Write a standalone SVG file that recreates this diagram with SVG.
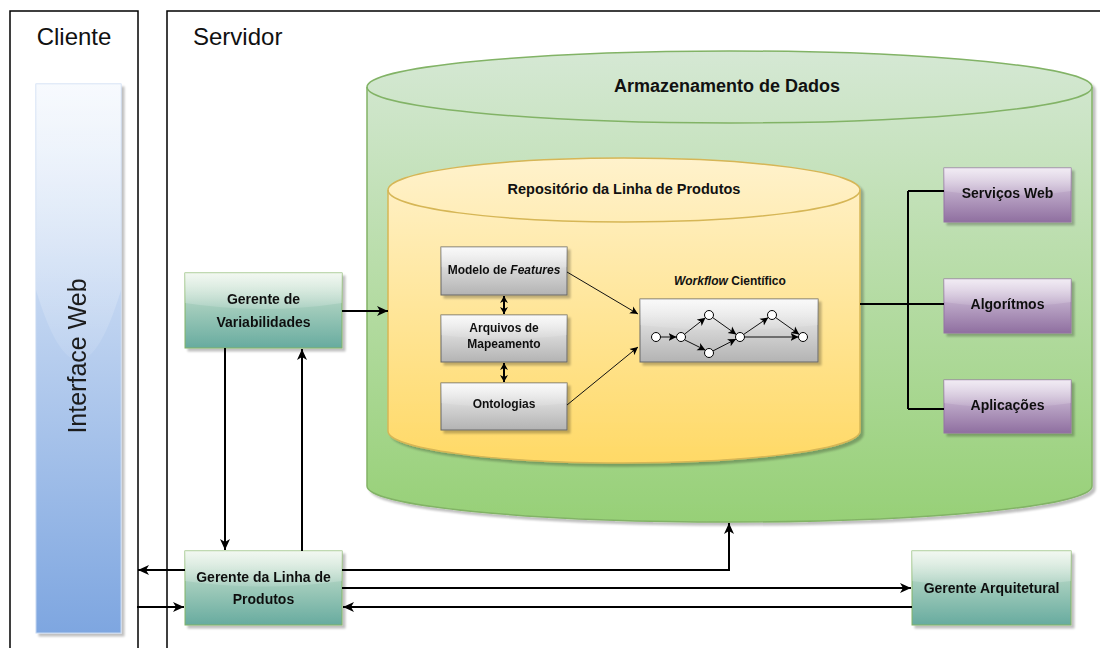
<svg xmlns="http://www.w3.org/2000/svg" width="1100" height="648" viewBox="0 0 1100 648">
  <style>
    .lane { fill: none; stroke: #000; stroke-width: 1.5; }
    .lane-title { font-family: "Liberation Sans", Arial, sans-serif; font-size: 24px; fill: #111; }
    .lbl { font-family: "Liberation Sans", Arial, sans-serif; font-weight: bold; fill: #111; text-anchor: middle; }
    .lbl14 { font-size: 14px; }
    .lbl12 { font-size: 12px; }
    .conn { fill: none; stroke: #000; stroke-width: 2; }
    .thin { fill: none; stroke: #111; stroke-width: 1; }
    .green { fill: url(#gGreen); stroke: #82b366; stroke-width: 1; }
    .gray { fill: url(#gGray); stroke: #666; stroke-width: 1; }
    .purple { fill: url(#gPurple); stroke: #9673a6; stroke-width: 1; }
    .glass { fill: url(#gGlass); stroke: none; }
    .wfnode { fill: #fff; stroke: #000; stroke-width: 1; }
  </style>
  <defs>
    <linearGradient id="gGreen" x1="0" y1="0" x2="0" y2="1">
      <stop offset="0" stop-color="#d5e8d4"/>
      <stop offset="1" stop-color="#67ab9f"/>
    </linearGradient>
    <linearGradient id="gGray" x1="0" y1="0" x2="0" y2="1">
      <stop offset="0" stop-color="#f5f5f5"/>
      <stop offset="1" stop-color="#b3b3b3"/>
    </linearGradient>
    <linearGradient id="gPurple" x1="0" y1="0" x2="0" y2="1">
      <stop offset="0" stop-color="#e1d5e7"/>
      <stop offset="1" stop-color="#8f6fa0"/>
    </linearGradient>
    <linearGradient id="gBlue" x1="0" y1="0" x2="0" y2="1">
      <stop offset="0" stop-color="#eef4fc"/>
      <stop offset="1" stop-color="#7ea6e0"/>
    </linearGradient>
    <linearGradient id="gGlass" x1="0" y1="0" x2="0" y2="1">
      <stop offset="0" stop-color="#fff" stop-opacity="0.9"/>
      <stop offset="1" stop-color="#fff" stop-opacity="0.15"/>
    </linearGradient>
    <linearGradient id="gStore" x1="0" y1="0" x2="0" y2="1">
      <stop offset="0" stop-color="#d5e8d4"/>
      <stop offset="1" stop-color="#97d077"/>
    </linearGradient>
    <linearGradient id="gRepo" x1="0" y1="0" x2="0" y2="1">
      <stop offset="0" stop-color="#fff2cc"/>
      <stop offset="1" stop-color="#ffd966"/>
    </linearGradient>
    <filter id="shadow" x="-10%" y="-10%" width="130%" height="130%">
      <feGaussianBlur in="SourceAlpha" stdDeviation="1.2"/>
      <feOffset dx="2.5" dy="2.5" result="off"/>
      <feComponentTransfer><feFuncA type="linear" slope="0.25"/></feComponentTransfer>
      <feMerge><feMergeNode/><feMergeNode in="SourceGraphic"/></feMerge>
    </filter>
    <marker id="arrow" markerUnits="userSpaceOnUse" markerWidth="12" markerHeight="12" refX="11" refY="6" orient="auto">
      <path d="M0,1 L11,6 L0,11 L3,6 Z" fill="#000"/>
    </marker>
    <marker id="arrowSmall" markerUnits="userSpaceOnUse" markerWidth="9" markerHeight="9" refX="8" refY="4.5" orient="auto">
      <path d="M0,0.5 L8,4.5 L0,8.5 L2,4.5 Z" fill="#000"/>
    </marker>
    <marker id="arrowDouble" markerUnits="userSpaceOnUse" markerWidth="8" markerHeight="8" refX="7" refY="4" orient="auto-start-reverse">
      <path d="M0,0 L7,4 L0,8 L2,4 Z" fill="#000"/>
    </marker>
  </defs>

  <!-- swimlanes -->
  <g id="lane-cliente">
    <rect class="lane" x="10" y="11" width="128" height="660"/>
    <text class="lane-title" x="74" y="45" text-anchor="middle">Cliente</text>
  </g>
  <g id="lane-servidor">
    <rect class="lane" x="167" y="11" width="960" height="660"/>
    <text class="lane-title" x="193" y="45">Servidor</text>
  </g>

  <!-- web interface -->
  <g id="interface-web" filter="url(#shadow)">
    <rect x="36" y="84" width="85" height="549" fill="url(#gBlue)" stroke="#c5d8f2" stroke-width="1"/>
    <path class="glass" d="M36,84 H121 V290 Q78.5,430 36,290 Z" opacity="0.6"/>
    <text x="86" y="356" transform="rotate(-90 86 356)" text-anchor="middle" font-family="'Liberation Sans', Arial, sans-serif" font-size="25" fill="#1a1a1a">Interface Web</text>
  </g>

  <!-- data storage cylinder -->
  <g id="armazenamento">
    <path d="M367,87 A362.5,36 0 0 1 1092,87 V486 A362.5,36 0 0 1 367,486 Z" fill="url(#gStore)" stroke="#82b366" stroke-width="1.5" filter="url(#shadow)"/>
    <path d="M367,87 A362.5,36 0 0 0 1092,87" fill="none" stroke="#82b366" stroke-width="1.5"/>
    <text class="lbl" x="727" y="92" font-size="18">Armazenamento de Dados</text>
  </g>

  <!-- product line repository cylinder -->
  <g id="repositorio">
    <path d="M388,190 A236,32 0 0 1 860,190 V431 A236,32 0 0 1 388,431 Z" fill="url(#gRepo)" stroke="#d6b656" stroke-width="1.5" filter="url(#shadow)"/>
    <path d="M388,190 A236,32 0 0 0 860,190" fill="none" stroke="#d6b656" stroke-width="1.5"/>
    <text class="lbl" x="624" y="194" font-size="14.5">Repositório da Linha de Produtos</text>
  </g>

  <g id="modelo-features" filter="url(#shadow)">
    <rect class="gray" x="441" y="247" width="126" height="48"/>
    <path class="glass" d="M441,247 H567 V267 Q504,275 441,267 Z" opacity="0.5"/>
    <text class="lbl lbl12" x="504" y="274">Modelo de <tspan font-style="italic">Features</tspan></text>
  </g>
  <g id="arquivos-mapeamento" filter="url(#shadow)">
    <rect class="gray" x="441" y="315" width="126" height="47"/>
    <path class="glass" d="M441,315 H567 V335 Q504,343 441,335 Z" opacity="0.5"/>
    <text class="lbl lbl12" x="504" y="332">Arquivos de</text>
    <text class="lbl lbl12" x="504" y="348">Mapeamento</text>
  </g>
  <g id="ontologias" filter="url(#shadow)">
    <rect class="gray" x="441" y="383" width="126" height="47"/>
    <path class="glass" d="M441,383 H567 V403 Q504,411 441,403 Z" opacity="0.5"/>
    <text class="lbl lbl12" x="504" y="408">Ontologias</text>
  </g>

  <!-- scientific workflow -->
  <g id="workflow-cientifico">
    <text class="lbl lbl12" x="730" y="285"><tspan font-style="italic">Workflow</tspan> Científico</text>
    <g filter="url(#shadow)">
      <rect class="gray" x="640" y="299" width="178" height="63"/>
      <path class="glass" d="M640,299 H818 V325 Q729,335 640,325 Z" opacity="0.5"/>
    </g>
    <g class="wf-edges">
      <line class="thin" x1="660.5" y1="337" x2="676.5" y2="337" marker-end="url(#arrowSmall)"/>
      <line class="thin" x1="684.5" y1="334.2" x2="705.5" y2="317.8" marker-end="url(#arrowSmall)"/>
      <line class="thin" x1="684.5" y1="339.8" x2="705.5" y2="350.2" marker-end="url(#arrowSmall)"/>
      <line class="thin" x1="712.7" y1="317.6" x2="736.3" y2="334.4" marker-end="url(#arrowSmall)"/>
      <line class="thin" x1="713" y1="350.9" x2="736" y2="339.1" marker-end="url(#arrowSmall)"/>
      <line class="thin" x1="743.7" y1="334.4" x2="768.3" y2="317.6" marker-end="url(#arrowSmall)"/>
      <line class="thin" x1="744.5" y1="337" x2="798.5" y2="337" marker-end="url(#arrowSmall)"/>
      <line class="thin" x1="775.7" y1="317.6" x2="799.3" y2="334.4" marker-end="url(#arrowSmall)"/>
    </g>
    <g class="wf-nodes">
      <circle class="wfnode" cx="656" cy="337" r="4.5"/>
      <circle class="wfnode" cx="681" cy="337" r="4.5"/>
      <circle class="wfnode" cx="709" cy="315" r="4.5"/>
      <circle class="wfnode" cx="709" cy="353" r="4.5"/>
      <circle class="wfnode" cx="740" cy="337" r="4.5"/>
      <circle class="wfnode" cx="772" cy="315" r="4.5"/>
      <circle class="wfnode" cx="803" cy="337" r="4.5"/>
    </g>
  </g>

  <!-- external resources -->
  <g id="servicos-web" filter="url(#shadow)">
    <rect class="purple" x="944" y="168" width="127" height="54"/>
    <path class="glass" d="M944,168 H1071 V191 Q1007.5,200 944,191 Z" opacity="0.6"/>
    <text class="lbl lbl14" x="1007.5" y="198">Serviços Web</text>
  </g>
  <g id="algoritmos" filter="url(#shadow)">
    <rect class="purple" x="944" y="279" width="127" height="54"/>
    <path class="glass" d="M944,279 H1071 V302 Q1007.5,311 944,302 Z" opacity="0.6"/>
    <text class="lbl lbl14" x="1007.5" y="309">Algorítmos</text>
  </g>
  <g id="aplicacoes" filter="url(#shadow)">
    <rect class="purple" x="944" y="380" width="127" height="53"/>
    <path class="glass" d="M944,380 H1071 V403 Q1007.5,412 944,403 Z" opacity="0.6"/>
    <text class="lbl lbl14" x="1007.5" y="410">Aplicações</text>
  </g>

  <!-- managers -->
  <g id="gerente-variabilidades" filter="url(#shadow)">
    <rect class="green" x="185" y="273" width="157" height="75"/>
    <path class="glass" d="M185,273 H342 V303 Q263.5,315 185,303 Z" opacity="0.75"/>
    <text class="lbl lbl14" x="263.5" y="304">Gerente de</text>
    <text class="lbl lbl14" x="263.5" y="327">Variabilidades</text>
  </g>
  <g id="gerente-linha-produtos" filter="url(#shadow)">
    <rect class="green" x="185" y="551" width="157" height="74"/>
    <path class="glass" d="M185,551 H342 V581 Q263.5,592 185,581 Z" opacity="0.75"/>
    <text class="lbl lbl14" x="263.5" y="582">Gerente da Linha de</text>
    <text class="lbl lbl14" x="263.5" y="604">Produtos</text>
  </g>
  <g id="gerente-arquitetural" filter="url(#shadow)">
    <rect class="green" x="912" y="551" width="159" height="74"/>
    <path class="glass" d="M912,551 H1071 V581 Q991.5,592 912,581 Z" opacity="0.75"/>
    <text class="lbl lbl14" x="991.5" y="593">Gerente Arquitetural</text>
  </g>

  <!-- connectors -->
  <g id="connectors">
    <line class="thin" x1="567" y1="272" x2="638" y2="314" marker-end="url(#arrowSmall)"/>
    <line class="thin" x1="567" y1="405" x2="638" y2="347" marker-end="url(#arrowSmall)"/>
    <line class="conn" stroke-width="1.5" x1="504" y1="296" x2="504" y2="314" marker-start="url(#arrowDouble)" marker-end="url(#arrowDouble)"/>
    <line class="conn" stroke-width="1.5" x1="504" y1="363" x2="504" y2="382" marker-start="url(#arrowDouble)" marker-end="url(#arrowDouble)"/>

    <path class="conn" d="M860,304 H944 M908,191 V409 M908,191 H944 M908,409 H944"/>

    <line class="conn" x1="342" y1="311" x2="388" y2="311" marker-end="url(#arrow)"/>
    <line class="conn" x1="225" y1="348" x2="225" y2="550" marker-end="url(#arrow)"/>
    <line class="conn" x1="302" y1="551" x2="302" y2="349" marker-end="url(#arrow)"/>
    <line class="conn" x1="185" y1="570" x2="138" y2="570" marker-end="url(#arrow)"/>
    <line class="conn" x1="137" y1="607" x2="184" y2="607" marker-end="url(#arrow)"/>
    <path class="conn" d="M342,570 H729 V523" marker-end="url(#arrow)"/>
    <line class="conn" x1="342" y1="588" x2="911" y2="588" marker-end="url(#arrow)"/>
    <line class="conn" x1="912" y1="607" x2="343" y2="607" marker-end="url(#arrow)"/>
  </g>
</svg>
